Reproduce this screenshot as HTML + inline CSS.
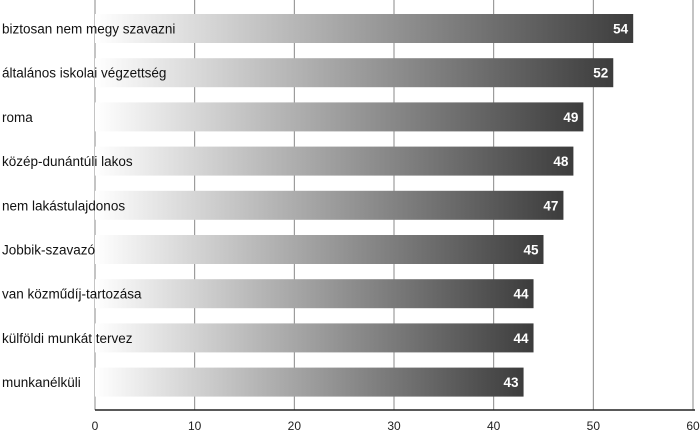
<!DOCTYPE html>
<html><head><meta charset="utf-8"><style>
body{margin:0;background:#fff;}
svg{display:block;font-family:"Liberation Sans",sans-serif;}
</style></head><body>
<svg id="chart" width="700" height="433">
<defs><linearGradient id="g" x1="0" x2="1" y1="0" y2="0"><stop offset="0" stop-color="#ffffff"/><stop offset="1" stop-color="#3c3c3c"/></linearGradient></defs>
</svg>
<script>
const categories=["biztosan nem megy szavazni","általános iskolai végzettség","roma","közép-dunántúli lakos","nem lakástulajdonos","Jobbik-szavazó","van közműdíj-tartozása","külföldi munkát tervez","munkanélküli"];
const values=[54,52,49,48,47,45,44,44,43];
const tickLabels=[0,10,20,30,40,50,60];
const svg=document.getElementById('chart');
const NS='http://www.w3.org/2000/svg';
const x0=95,x1=693,xmax=60,top0=14,step=44.2,bh=29,axisY=410;
const xs=v=>x0+(x1-x0)*v/xmax;
const ys=i=>top0+i*step;
function mk(t,a){const e=document.createElementNS(NS,t);for(const k in a)e.setAttribute(k,a[k]);svg.appendChild(e);return e;}
tickLabels.forEach(t=>{
 const g=mk('line',{x1:xs(t),x2:xs(t),y1:0,y2:axisY,stroke:'#888','stroke-width':1});
 
 
 const l=mk('text',{x:xs(t),y:430,'text-anchor':'middle','font-size':12,fill:'#222'});
 l.textContent=t;
 
 
});
const ax=mk('line',{x1:x0,x2:x1+2,y1:axisY,y2:axisY,stroke:'#222','stroke-width':1.5});


values.forEach((v,i)=>{
 const y=ys(i);
 const r=mk('rect',{x:x0,y:y,width:xs(v)-x0,height:bh,fill:'url(#g)'});
 
 
 const c=mk('text',{x:2,y:y+bh/2+5,'font-size':13.5,fill:'#111'});
 c.textContent=categories[i];
 
 
 const vl=mk('text',{x:xs(v)-5,y:y+bh/2+5,'text-anchor':'end','font-size':13.5,'font-weight':'bold',fill:'#fff'});
 vl.textContent=v;
 
 
});
</script>
</body></html>
